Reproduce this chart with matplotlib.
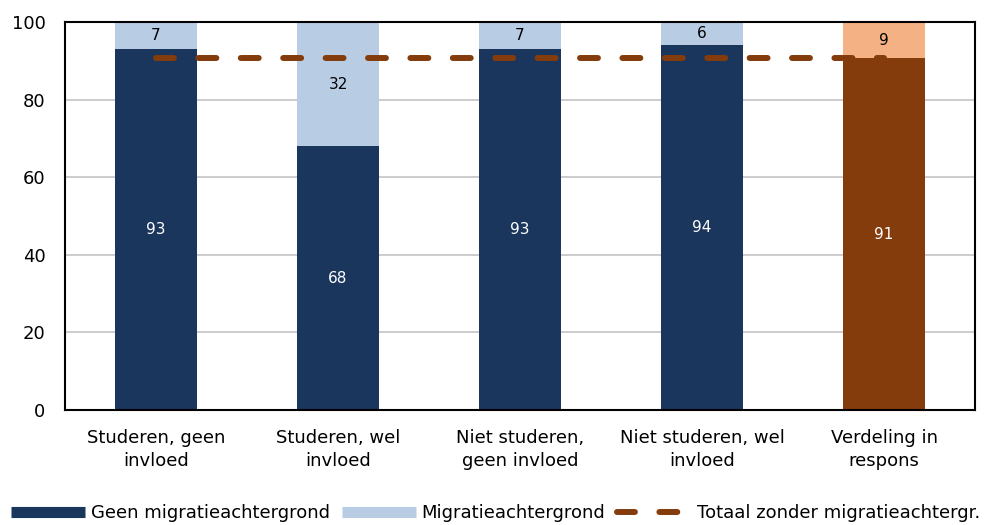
import matplotlib
matplotlib.use("Agg")
import matplotlib.pyplot as plt
from matplotlib.lines import Line2D
import numpy as np

categories = ["Studeren, geen\ninvloed", "Studeren, wel\ninvloed", "Niet studeren,\ngeen invloed",
              "Niet studeren, wel\ninvloed", "Verdeling in\nrespons"]
geen_migratie = [93, 68, 93, 94, 90.6]
migratie = [7, 32, 7, 6, 9.4]
totaal_zonder = 90.6
yticks = [0, 20, 40, 60, 80, 100]

navy = "#1B365D"
light = "#B8CCE4"
brown = "#843C0C"
peach = "#F4B183"

plt.rcParams['font.family'] = ['DejaVu Sans']
fig = plt.figure(figsize=(9.89, 5.25), dpi=100)
ax = fig.add_axes([65/989, 115/525, 910/989, 388/525])

x = np.arange(len(categories))
c_bottom = [navy]*4 + [brown]
c_top = [light]*4 + [peach]
w = 0.45
ax.bar(x, geen_migratie, width=w, color=c_bottom, zorder=2)
ax.bar(x, migratie, width=w, bottom=geen_migratie, color=c_top, zorder=2)

for xi, v in zip(x, geen_migratie):
    ax.text(xi, v/2, f"{v:.0f}", ha="center", va="center", color="white", fontsize=11, zorder=4)
for xi, b, v in zip(x, geen_migratie, migratie):
    ax.text(xi, b + v/2, f"{v:.0f}", ha="center", va="center", color="black", fontsize=11, zorder=4)

ax.plot([x[0], x[-1]], [totaal_zonder]*2, color=brown, lw=4.3, dashes=(3.0, 4.1),
        dash_capstyle="round", zorder=3)

ax.set_xlim(-0.5, len(categories)-0.5)
ax.set_ylim(0, 100)
ax.set_yticks(yticks)
ax.set_xticks(x)
ax.set_xticklabels(categories, fontsize=13, linespacing=1.3)
ax.tick_params(axis="y", labelsize=13, length=0, pad=14)
ax.tick_params(axis="x", length=0, pad=14)
ax.grid(axis="y", color="#C8C8C8", lw=1.3, zorder=0)
for s in ax.spines.values():
    s.set_color("black")
    s.set_linewidth(1.5)

handles = [Line2D([0], [0], color=navy, lw=8, solid_capstyle="butt"),
           Line2D([0], [0], color=light, lw=8, solid_capstyle="butt"),
           Line2D([0], [0], color=brown, lw=4.3, dashes=(3.0, 4.1), dash_capstyle="round")]
labels = ["Geen migratieachtergrond", "Migratieachtergrond", "Totaal zonder migratieachtergr."]
fig.legend(handles, labels, loc="lower left", bbox_to_anchor=(0.0, -0.015), ncol=3, frameon=False,
           fontsize=13, handlelength=4.1, handletextpad=0.33, columnspacing=0.65, borderaxespad=0.2)

fig.savefig("out.png", dpi=100)
